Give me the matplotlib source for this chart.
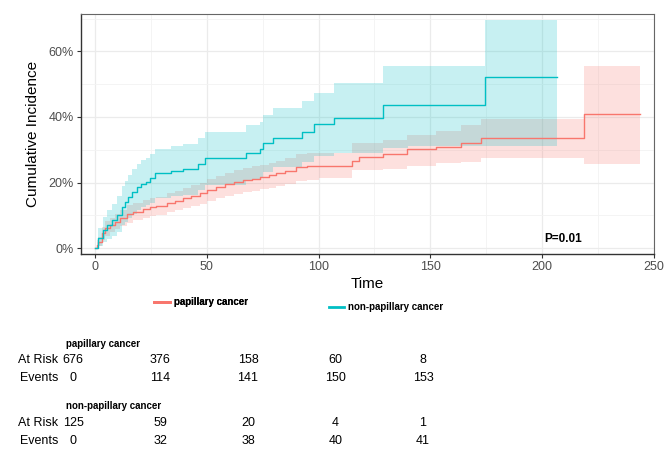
import matplotlib
matplotlib.use("Agg")
import matplotlib.pyplot as plt
from matplotlib.ticker import PercentFormatter, MultipleLocator
from matplotlib.lines import Line2D

plt.rcParams['font.family'] = ['Liberation Sans', 'DejaVu Sans']

# papillary cancer: time, cumulative incidence (%), lower / upper CI (%)
pap_time = [0, 1.0, 1.5, 3.0, 4.5, 6.7, 8.9, 11.2, 14.1, 17.1, 21.6, 24.6, 27.5, 32, 36, 39.4,
            43, 46.8, 50, 54, 58, 62, 66, 70, 74, 78, 81, 85, 90, 95, 100, 115, 118, 128.7,
            139.7, 152.5, 163.7, 172.6, 218.7, 243.6]
pap_est = [0, 1.0, 1.9, 4.5, 6.0, 7.0, 8.0, 9.1, 10.4, 11.1, 11.8, 12.4, 12.8, 13.8, 14.5, 15.2,
           16.0, 16.7, 17.8, 18.7, 19.4, 20.2, 20.8, 21.2, 21.6, 22.3, 22.8, 23.6, 24.6, 25.0, 25.1,
           26.5, 27.9, 28.7, 30.1, 30.9, 32.0, 33.7, 40.8, 40.8]
pap_lo = [0, 0.2, 0.5, 2.5, 3.8, 4.8, 5.7, 6.7, 7.8, 8.5, 9.1, 9.7, 10.1, 11.0, 11.6, 12.2,
          12.9, 13.5, 14.4, 15.2, 15.9, 16.6, 17.1, 17.5, 17.9, 18.4, 18.9, 19.6, 20.5, 20.9, 21.5,
          23.8, 23.8, 24.2, 25.1, 25.9, 26.4, 27.4, 25.5, 25.5]
pap_hi = [0, 2.5, 3.5, 6.5, 8.2, 9.3, 10.4, 11.6, 13.0, 13.8, 14.6, 15.2, 15.7, 16.7, 17.5, 18.3,
          19.2, 20.0, 21.1, 22.1, 23.0, 23.8, 24.5, 24.9, 25.4, 26.1, 26.7, 27.6, 28.7, 29.0, 29.0,
          32.0, 32.0, 33.0, 34.5, 35.8, 37.5, 39.3, 55.4, 55.4]

# non-papillary cancer
non_time = [0, 1.5, 3.7, 5.2, 7.4, 9.7, 11.9, 13.4, 14.9, 16.4, 18.6, 20.8, 23.0, 24.6, 27.0,
            34.2, 39.4, 46.1, 49.1, 67.7, 73.7, 75.1, 79.6, 92.5, 97.9, 106.8, 128.7, 140,
            174.6, 206.5]
non_est = [0, 3.0, 5.5, 7.0, 8.5, 10.1, 12.6, 14.1, 15.7, 17.2, 18.7, 19.7, 20.2, 21.3, 22.8,
           23.6, 24.0, 25.6, 27.4, 29.1, 30.1, 32.0, 33.5, 35.5, 37.8, 39.8, 43.6, 43.6,
           52.3, 52.3]
non_lo = [0, 0.5, 1.8, 2.8, 3.8, 5.0, 6.9, 8.0, 9.3, 10.5, 11.7, 12.6, 13.0, 13.9, 15.2,
          15.9, 16.2, 17.6, 19.2, 20.7, 21.6, 23.3, 24.6, 26.3, 28.2, 28.9, 30.4, 31.2,
          31.1, 31.1]
non_hi = [0, 6.0, 9.5, 11.5, 13.5, 15.8, 18.9, 20.6, 22.4, 24.0, 25.7, 26.8, 27.4, 28.6, 30.3,
          31.2, 31.7, 33.5, 35.5, 37.4, 38.6, 40.7, 42.6, 45.0, 47.4, 50.3, 55.6, 55.6,
          69.6, 69.6]

# risk table
tab_times = [0, 50, 100, 150, 200]
pap_risk = [676, 376, 158, 60, 8]
pap_events = [0, 114, 141, 150, 153]
non_risk = [125, 59, 20, 4, 1]
non_events = [0, 32, 38, 40, 41]

red = '#F8766D'
teal = '#00BFC4'

fig = plt.figure(figsize=(6.69, 4.61), dpi=100)
ax = fig.add_axes([81/669, 1 - 254/461, (654 - 81)/669, (254 - 14)/461])

def pct(v):
    return [x / 100 for x in v]

for t, est, lo, hi, c in [(pap_time, pap_est, pap_lo, pap_hi, red),
                          (non_time, non_est, non_lo, non_hi, teal)]:
    ax.fill_between(t, pct(lo), pct(hi), step='post', color=c, alpha=0.22, lw=0)
    ax.step(t, pct(est), where='post', color=c, lw=1.0)

ax.set_xlim(-6.25, 250)
ax.set_ylim(-0.018, 0.714)
ax.xaxis.set_major_locator(MultipleLocator(50))
ax.xaxis.set_minor_locator(MultipleLocator(25))
ax.yaxis.set_major_locator(MultipleLocator(0.2))
ax.yaxis.set_minor_locator(MultipleLocator(0.1))
ax.yaxis.set_major_formatter(PercentFormatter(xmax=1, decimals=0))
ax.grid(which='major', color='#EBEBEB', lw=0.9)
ax.grid(which='minor', color='#F3F3F3', lw=0.6)
ax.set_axisbelow(True)
ax.tick_params(which='major', length=3, width=0.8, color='#333333', labelsize=9,
               labelcolor='#4D4D4D', pad=2)
ax.tick_params(which='minor', length=0)
for s in ['left', 'bottom']:
    ax.spines[s].set_color('#333333')
    ax.spines[s].set_linewidth(1.0)
for s in ['top', 'right']:
    ax.spines[s].set_color('#666666')
    ax.spines[s].set_linewidth(0.8)

ax.set_ylabel('Cumulative Incidence', fontsize=11, labelpad=6)
ax.set_xlabel('Time', fontsize=11, labelpad=3)
ax.text(201, 0.027, 'P=0.01', fontsize=8.5, fontweight='bold', va='center', ha='left')

# legend, two separate entries
leg_font = {'size': 7, 'weight': 'bold'}
leg1 = fig.legend(handles=[Line2D([], [], color=red, lw=2)], labels=['papillary cancer'],
                  loc='center', bbox_to_anchor=(201/669, 1 - 302/461), frameon=False,
                  prop=leg_font, handlelength=1.6, handletextpad=0.4)
leg2 = fig.legend(handles=[Line2D([], [], color=teal, lw=2)], labels=['non-papillary cancer'],
                  loc='center', bbox_to_anchor=(386/669, 1 - 307/461), frameon=False,
                  prop=leg_font, handlelength=1.6, handletextpad=0.4)
fig.add_artist(leg1)

# risk table on its own axes, time 0..200
tab = fig.add_axes([73/669, 1 - 450/461, 350/669, 120/461])
tab.set_xlim(0, 200)
tab.set_ylim(450, 330)
tab.axis('off')

rows = [('papillary cancer', 344, 360, 377.7, pap_risk, pap_events),
        ('non-papillary cancer', 405.7, 423.3, 440.7, non_risk, non_events)]
for name, yh, yr, ye, risk, ev in rows:
    tab.text(-4, yh, name, fontsize=7, fontweight='bold', ha='left', va='center')
    tab.text(-8.6, yr, 'At Risk', fontsize=9, ha='right', va='center')
    tab.text(-8.6, ye, 'Events', fontsize=9, ha='right', va='center')
    for t, r, e in zip(tab_times, risk, ev):
        tab.text(t, yr, str(r), fontsize=9, ha='center', va='center')
        tab.text(t, ye, str(e), fontsize=9, ha='center', va='center')

fig.savefig('out.png', dpi=100)
